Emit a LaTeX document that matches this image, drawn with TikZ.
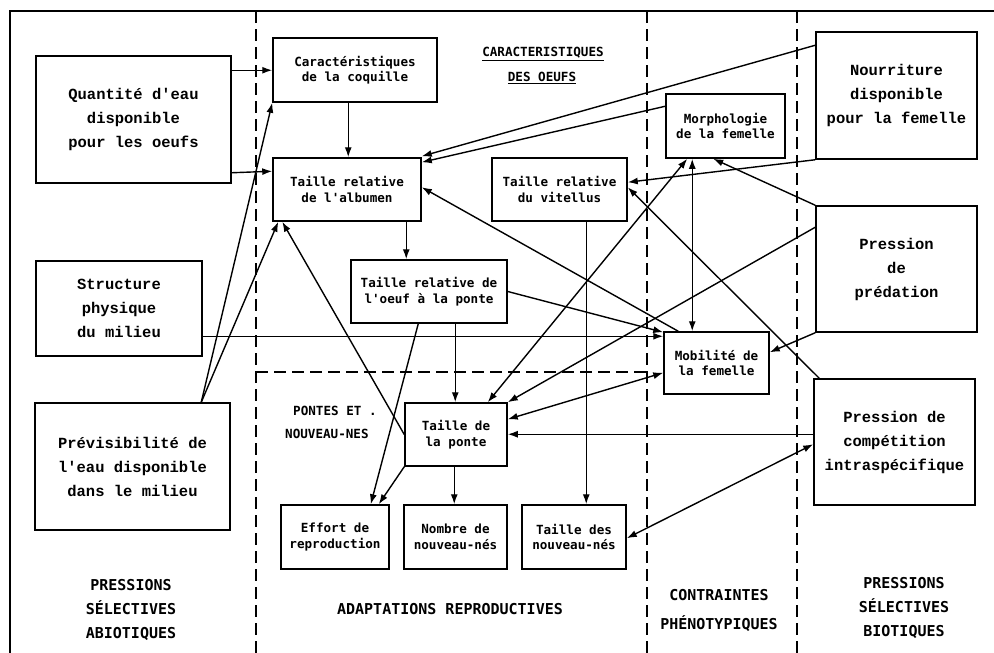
\documentclass[tikz,border=0pt]{standalone}
\usepackage{fontspec}
\usetikzlibrary{arrows.meta}
\newfontfamily\sermono{Liberation Mono}
\newfontfamily\sanmono{DejaVu Sans Mono}
\begin{document}
\begin{tikzpicture}[x=1pt,y=-1pt,
  box/.style={draw, line width=1.5pt, inner sep=0pt, align=center},
  lbox/.style={box, font=\sermono\bfseries\fontsize{15.5}{24}\selectfont},
  mbox/.style={box, font=\sanmono\bfseries\fontsize{12.6}{15.5}\selectfont},
  arr/.style={line width=1.4pt, -{Latex[length=10pt,width=7pt]}},
  darr/.style={line width=1.4pt, {Latex[length=10pt,width=7pt]}-{Latex[length=10pt,width=7pt]}},
  divider/.style={line width=1.5pt, dash pattern=on 12pt off 6pt},
  lbl/.style={font=\sanmono\bfseries\fontsize{15}{24}\selectfont, align=center},
  slbl/.style={font=\sanmono\bfseries\fontsize{12.6}{15.5}\selectfont}
]
\useasboundingbox (0,0) rectangle (994,653);
\fill[white] (0,0) rectangle (994,653);

% frame and dividers
\draw[line width=1.5pt] (10,653) -- (10,11) -- (994,11);
\draw[divider] (256,11) -- (256,653);
\draw[divider] (647,11) -- (647,653);
\draw[divider] (797,11) -- (797,653);
\draw[divider] (256,372) -- (647,372);

% left boxes
\node[lbox, minimum width=195pt, minimum height=127pt] (quant) at (133.5,119.5) {Quantité d'eau\\disponible\\pour les oeufs};
\node[lbox, minimum width=166pt, minimum height=95pt] (struct) at (119,308.5) {Structure\\physique\\du milieu};
\node[lbox, minimum width=195pt, minimum height=127pt] (prev) at (132.5,466.5) {Prévisibilité de\\l'eau disponible\\dans le milieu};

% right boxes
\node[lbox, minimum width=161pt, minimum height=127pt] (nour) at (896.5,95.5) {Nourriture\\disponible\\pour la femelle};
\node[lbox, minimum width=161pt, minimum height=126pt] (pred) at (896.5,269) {Pression\\de\\prédation};
\node[lbox, minimum width=161pt, minimum height=126pt] (comp) at (894.5,442) {Pression de\\compétition\\intraspécifique};

% middle boxes
\node[mbox, minimum width=164pt, minimum height=64pt] (coq) at (355,70) {Caractéristiques\\de la coquille};
\node[mbox, minimum width=148pt, minimum height=63pt] (alb) at (347,189.5) {Taille relative\\de l'albumen};
\node[mbox, minimum width=156pt, minimum height=63pt] (oeuf) at (429,291.5) {Taille relative de\\l'oeuf à la ponte};
\node[mbox, minimum width=135pt, minimum height=63pt] (vit) at (559.5,189.5) {Taille relative\\du vitellus};
\node[mbox, minimum width=119pt, minimum height=64pt] (morph) at (725.5,126) {Morphologie\\de la femelle};
\node[mbox, minimum width=105pt, minimum height=62pt] (mob) at (716.5,363) {Mobilité de\\la femelle};
\node[mbox, minimum width=102pt, minimum height=63pt] (ponte) at (456,434.5) {Taille de\\la ponte};
\node[mbox, minimum width=108pt, minimum height=64pt] (effort) at (335,537) {Effort de\\reproduction};
\node[mbox, minimum width=103pt, minimum height=64pt] (nombre) at (455.5,537) {Nombre de\\nouveau-nés};
\node[mbox, minimum width=104pt, minimum height=64pt] (tnn) at (574,537) {Taille des\\nouveau-nés};

% labels
\node[slbl] (car1) at (543,54) {\underline{CARACTERISTIQUES}};
\node[slbl] (car2) at (542,78) {\underline{DES OEUFS}};
\node[slbl, anchor=west, inner sep=0pt] (pon1) at (293,411) {PONTES ET .};
\node[slbl, anchor=west, inner sep=0pt] (pon2) at (285,434) {NOUVEAU-NES};
\node[lbl] (abio) at (131,610) {PRESSIONS\\SÉLECTIVES\\ABIOTIQUES};
\node[lbl] (adapt) at (450,609) {ADAPTATIONS REPRODUCTIVES};
\node[lbl, font=\sanmono\bfseries\fontsize{15}{29}\selectfont] (contr) at (719,610.5) {CONTRAINTES\\PHÉNOTYPIQUES};
\node[lbl] (bio) at (904,608) {PRESSIONS\\SÉLECTIVES\\BIOTIQUES};

% connectors
\draw[arr] ([yshift=-15pt]quant.north east) -- ([yshift=-33pt]coq.north west);
\draw[arr] ([yshift=11pt]quant.south east) -- ([yshift=-14pt]alb.north west);
\draw[arr] ([xshift=76pt]coq.south west) -- ([xshift=76pt]alb.north west);
\draw[arr] ([xshift=134pt]alb.south west) -- ([xshift=56pt]oeuf.north west);
\draw[arr] ([xshift=167pt]prev.north west) -- (coq.south west);
\draw[arr] ([xshift=167pt]prev.north west) -- ([xshift=6pt]alb.south west);
\draw[arr] (ponte.west) -- ([xshift=10pt]alb.south west);
\draw[arr] ([yshift=-14pt]nour.north west) -- ([yshift=1pt]alb.north east);
\draw[arr] ([yshift=-13pt]morph.north west) -- ([yshift=-5pt]alb.north east);
\draw[arr] ([xshift=15pt]mob.north west) -- ([yshift=-30pt]alb.north east);
\draw[arr] (nour.south west) -- ([yshift=-25pt]vit.north east);
\draw[arr] ([xshift=6pt]comp.north west) -- ([yshift=-30pt]vit.north east);
\draw[arr] ([xshift=95pt]vit.south west) -- ([xshift=65pt]tnn.north west);
\draw[darr] ([xshift=27pt]morph.south west) -- ([xshift=29pt]mob.north west);
\draw[arr] (pred.north west) -- ([xshift=48pt]morph.south west);
\draw[arr] (pred.south west) -- ([yshift=-21pt]mob.north east);
\draw[arr] ([yshift=-22pt]pred.north west) -- (ponte.north east);
\draw[arr] (oeuf.east) -- ([yshift=-1pt]mob.north west);
\draw[arr] ([yshift=-76pt]struct.north east) -- ([yshift=-5pt]mob.north west);
\draw[darr] ([xshift=22pt]morph.south west) -- ([xshift=-20pt]ponte.north east);
\draw[darr] ([yshift=22pt]mob.south west) -- ([yshift=-17pt]ponte.north east);
\draw[arr] ([yshift=-56pt]comp.north west) -- ([yshift=-32pt]ponte.north east);
\draw[darr] ([yshift=-66pt]comp.north west) -- ([yshift=-34pt]tnn.north east);
\draw[arr] ([xshift=105pt]oeuf.south west) -- ([xshift=51pt]ponte.north west);
\draw[arr] ([xshift=68pt]oeuf.south west) -- ([xshift=-19pt]effort.north east);
\draw[arr] (ponte.south west) -- ([xshift=-11pt]effort.north east);
\draw[arr] ([xshift=50pt]ponte.south west) -- ([xshift=51pt]nombre.north west);
\end{tikzpicture}
\end{document}
